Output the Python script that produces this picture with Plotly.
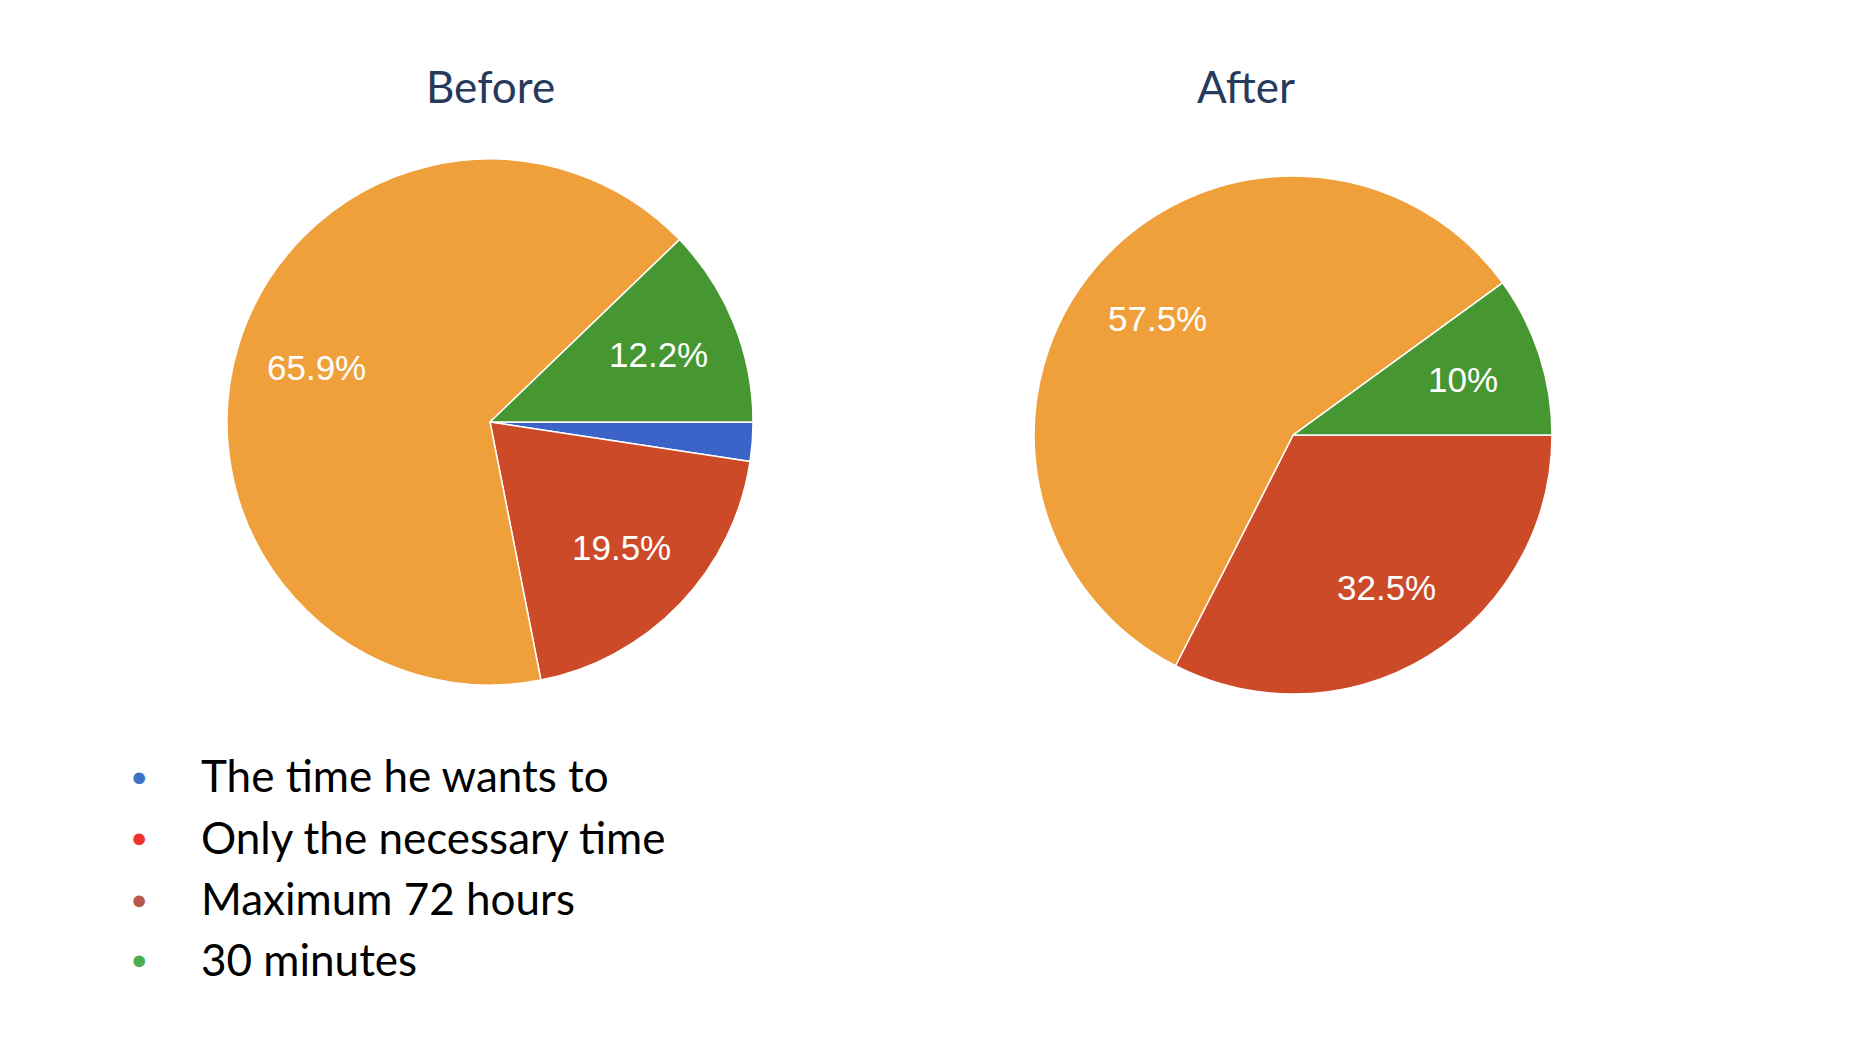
import math
import plotly.graph_objects as go

# answer categories, in drawing order (clockwise from 3 o'clock)
categories = ["The time he wants to", "Only the necessary time", "Maximum 72 hours", "30 minutes"]
before_vals = [2.4, 19.5, 65.9, 12.2]
after_vals = [0, 32.5, 57.5, 10]
slice_colors = ["#3C64C8", "#CC4A28", "#F0A03A", "#469632"]

# bullet list under the charts
legend_items = ["The time he wants to", "Only the necessary time", "Maximum 72 hours", "30 minutes"]
legend_colors = ["#3A73C4", "#EE3230", "#B85750", "#4CAE54"]

titles = ["Before", "After"]

W, H = 1852, 1040
LABEL_R = 0.69  # labels sit at this fraction of the radius, on the slice bisector


def pct_text(v, total):
	return f"{v / total * 100:.1f}".rstrip("0").rstrip(".") + "%"


def make_pie(vals, name, dom_x, dom_y):
	return go.Pie(
		labels=categories, values=vals, name=name,
		sort=False, direction="clockwise", rotation=90,
		marker=dict(colors=slice_colors, line=dict(color="white", width=1.5)),
		textinfo="none",
		domain=dict(x=dom_x, y=dom_y), showlegend=False, hoverinfo="label+percent",
	)


def slice_labels(vals, dom_x, dom_y, min_pct=5):
	# percentage labels placed along each slice's bisector
	cx = (dom_x[0] + dom_x[1]) / 2
	cy = (dom_y[0] + dom_y[1]) / 2
	r_px = min((dom_x[1] - dom_x[0]) * W, (dom_y[1] - dom_y[0]) * H) / 2
	total = sum(vals)
	out = []
	cum = 0
	for v in vals:
		mid = (cum + v / 2) / total * 2 * math.pi
		cum += v
		if v / total * 100 < min_pct:
			continue
		x = cx + LABEL_R * r_px * math.cos(mid) / W
		y = cy - LABEL_R * r_px * math.sin(mid) / H
		out.append(dict(text=pct_text(v, total), x=x, y=y, xref="paper", yref="paper",
			showarrow=False, xanchor="center", yanchor="middle",
			font=dict(family="Liberation Sans, Arial", size=35, color="white")))
	return out


before_dom = ([0.05, 0.4792], [0.3413, 0.8471])
after_dom = ([0.52, 0.8764], [0.3327, 0.8307])

fig = go.Figure()
fig.add_trace(make_pie(before_vals, "Before", *before_dom))
fig.add_trace(make_pie(after_vals, "After", *after_dom))

anns = slice_labels(before_vals, *before_dom) + slice_labels(after_vals, *after_dom)

# pie titles
for t, x in zip(titles, [0.2649, 0.6728]):
	anns.append(dict(text=t, x=x, y=0.9173, xref="paper", yref="paper", showarrow=False,
		xanchor="center", yanchor="middle", font=dict(family="Lato", size=44, color="#263A5C")))

# bullet list
row_y = [0.2548, 0.1952, 0.1365, 0.0779]
for lab, col, y in zip(legend_items, legend_colors, row_y):
	anns.append(dict(text="●", x=0.0751, y=y, xref="paper", yref="paper", showarrow=False,
		xanchor="center", yanchor="middle", font=dict(size=27, color=col)))
	anns.append(dict(text=lab, x=0.1073, y=y, xref="paper", yref="paper", showarrow=False,
		xanchor="left", yanchor="middle", font=dict(family="Lato", size=44, color="black")))

fig.update_layout(
	width=W, height=H,
	margin=dict(l=0, r=0, t=0, b=0),
	paper_bgcolor="white", plot_bgcolor="white",
	annotations=anns,
)

# drop the browser's default 8px body margin so the figure fills the window exactly
fig.write_html("out.html", config={"displayModeBar": False},
	post_script="document.body.style.margin='0';")
